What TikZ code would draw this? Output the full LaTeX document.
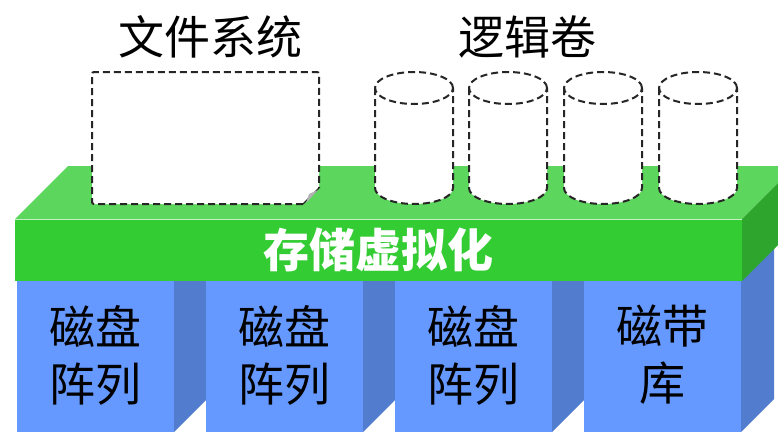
\documentclass[tikz,border=0pt]{standalone}
\usepackage{fontspec}
\newfontfamily\cjk{Noto Sans CJK SC}
\definecolor{gfront}{RGB}{51,204,51}
\definecolor{gtop}{RGB}{92,214,92}
\definecolor{gside}{RGB}{46,166,46}
\definecolor{bfront}{RGB}{102,153,255}
\definecolor{bside}{RGB}{82,124,206}
\tikzset{
  dashline/.style={draw=black!85, line width=2pt, dash pattern=on 7pt off 4pt},
  lbl/.style={font=\cjk\fontsize{46}{57}\selectfont, inner sep=0pt, align=center},
}
\begin{document}
\begin{tikzpicture}[x=1pt,y=-1pt]
\useasboundingbox (0,0) rectangle (778,431);
\clip (0,0) rectangle (778,431);
\fill[white] (0,0) rectangle (778,431);
% blue blocks
\foreach \x/\n in {17/1,206/2,395/3,584/4}{
  \fill[bside] (\x+157,432) -- (\x+190,399) -- (\x+190,240) -- (\x+157,281) -- cycle;
  \fill[bfront] (\x,281) rectangle (\x+157,432);
}
% green slab
\fill[gtop] (15,219) -- (68,166) -- (795,166) -- (742,219) -- cycle;
\fill[gside] (742,219) -- (795,166) -- (795,228) -- (742,281) -- cycle;
\fill[gfront] (15,219) rectangle (742,281);
\draw[white!70!gfront, line width=1pt] (15,219.5) -- (742,219.5);
% document shape
\path[fill=white] (92,72) -- (319,72) -- (319,188) -- (303,204) -- (92,204) -- cycle;
\draw[dashline, rounded corners=2pt] (303,204) -- (92,204) -- (92,72) -- (319,72) -- (319,188);
\draw[black!85, line width=1.3pt] (319,188) -- (303,204);
\fill[black!30] (306,203) -- (309,194) -- (318,190) -- cycle;
% cylinders
\foreach \c in {414,508,603,698}{
  \path[fill=white] (\c-39,88) -- (\c-39,188) arc[start angle=180,end angle=360,x radius=39pt,y radius=16pt] -- (\c+39,88) arc[start angle=0,end angle=180,x radius=39pt,y radius=16pt] -- cycle;
  \draw[dashline] (\c-39,88) -- (\c-39,188) arc[start angle=180,end angle=360,x radius=39pt,y radius=16pt] -- (\c+39,88);
  \draw[dashline] (\c,88) ellipse[x radius=39pt,y radius=16pt];
}
% labels
\node[lbl] (fs) at (210,37) {文件系统};
\node[lbl] (lv) at (527,37) {逻辑卷};
\node[lbl, text=white, font=\cjk\bfseries\fontsize{46}{57}\selectfont] (sv) at (378,250) {存储虚拟化};
\node[lbl] (b1) at (95.5,355) {磁盘\\阵列};
\node[lbl] (b2) at (284.5,355) {磁盘\\阵列};
\node[lbl] (b3) at (473.5,355) {磁盘\\阵列};
\node[lbl] (b4) at (662.5,355) {磁带\\库};
\end{tikzpicture}
\end{document}
